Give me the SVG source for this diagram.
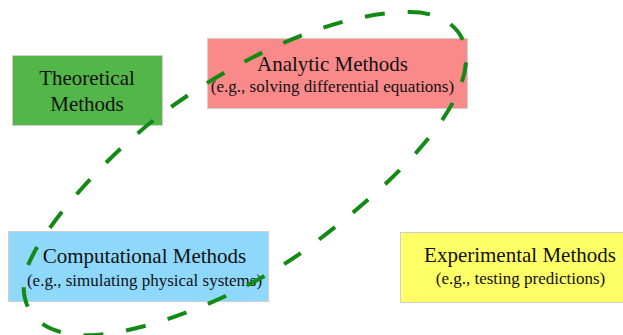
<svg xmlns="http://www.w3.org/2000/svg" width="623" height="335" viewBox="0 0 623 335">
<style>
.box{stroke:#cfcfcf;stroke-width:1}
.t{font-family:"Liberation Serif","Times New Roman",serif;fill:#111;text-anchor:middle}
.h{font-size:21px}
.s{font-size:17px}
.loop{fill:none;stroke:#138a13;stroke-width:4;stroke-dasharray:20 23}
</style>
<rect width="623" height="335" fill="#fff"/>
<g id="theoretical">
<rect class="box" x="12.5" y="55.5" width="150" height="70" fill="#53b649"/>
<text class="t h" x="87" y="85">Theoretical</text>
<text class="t h" x="87" y="111">Methods</text>
</g>
<g id="analytic">
<rect class="box" x="207.5" y="38.5" width="260" height="70" fill="#fa8a8a"/>
<text class="t h" x="332.5" y="71">Analytic Methods</text>
<text class="t s" x="332.5" y="92">(e.g., solving differential equations)</text>
</g>
<g id="computational">
<rect class="box" x="8.5" y="231.5" width="260" height="70" fill="#8ed8fb"/>
<text class="t h" x="144.5" y="263">Computational Methods</text>
<text class="t s" x="144.5" y="285.5">(e.g., simulating physical systems)</text>
</g>
<g id="experimental">
<rect class="box" x="400.5" y="232.5" width="240" height="70" fill="#ffff66"/>
<text class="t h" x="520" y="262">Experimental Methods</text>
<text class="t s" x="520.5" y="284">(e.g., testing predictions)</text>
</g>
<g id="connectors">
<path class="loop" d="M410,12 C445,12 469,32 466,62 C462,120 380,195 305,250 C250,290 160,330 95,335 C40,338 18,310 25,275 C32,240 100,160 163,113 C230,63 330,12 410,12 Z"/>
</g>
</svg>
